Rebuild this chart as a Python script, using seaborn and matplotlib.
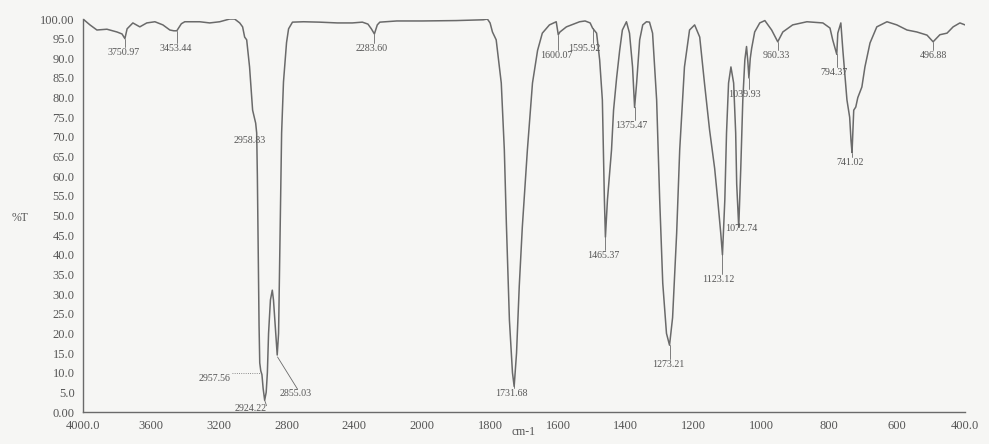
import numpy as np
import pandas as pd
import matplotlib
matplotlib.use("Agg")
import matplotlib.pyplot as plt
import seaborn as sns

# ---------------- data ----------------
wavenumber = [4000, 3959, 3918, 3859, 3800, 3770, 3753, 3740, 3706, 3665, 3624, 3576, 3529, 3488,
              3465, 3447, 3420, 3400, 3312, 3253, 3194, 3135, 3106, 3076, 3059, 3047, 3035, 3018,
              3000, 2990, 2982, 2976, 2972, 2967, 2962, 2958, 2952, 2945, 2938, 2929, 2920, 2913,
              2906, 2895, 2884, 2877, 2866, 2855, 2847, 2838, 2829, 2818, 2800, 2788, 2765, 2700,
              2606, 2500, 2412, 2353, 2320, 2300, 2282, 2265, 2250, 2150, 2000, 1900, 1820, 1808,
              1800, 1793, 1782, 1767, 1758, 1752, 1743, 1734, 1729, 1722, 1714, 1705, 1690, 1675,
              1660, 1646, 1625, 1605, 1599, 1594, 1575, 1536, 1520, 1505, 1498, 1486, 1477, 1469,
              1466, 1463, 1460, 1454, 1442, 1436, 1427, 1418, 1410, 1398, 1389, 1380, 1374, 1368,
              1359, 1350, 1339, 1330, 1321, 1309, 1300, 1291, 1280, 1271, 1262, 1250, 1241, 1227,
              1212, 1197, 1182, 1168, 1153, 1138, 1129, 1120, 1115, 1108, 1103, 1097, 1090, 1082,
              1076, 1073, 1067, 1061, 1055, 1049, 1044, 1040, 1037, 1033, 1029, 1020, 1005, 990,
              970, 952, 937, 908, 866, 819, 798, 790, 778, 775, 766, 760, 748, 740, 736, 733,
              728, 722, 716, 704, 695, 680, 660, 630, 601, 571, 542, 512, 494, 474, 453, 435,
              415, 400]
transmittance = [100, 98.5, 97.2, 97.4, 96.7, 96.2, 95.0, 97.5, 99.0, 98.0, 99.0, 99.3, 98.5, 97.2,
                 97.0, 97.0, 98.8, 99.3, 99.3, 99.0, 99.3, 100, 100, 99.0, 98.0, 95.4, 94.7, 87.8,
                 76.8, 75.0, 73.5, 71.0, 60, 40, 22, 12.5, 10.5, 9.5, 6.0, 3.0, 5.0, 10,
                 20, 28.5, 31, 28.5, 21.6, 14.5, 20, 45, 71, 84, 94, 97.5, 99.2, 99.3,
                 99.2, 99.0, 99.0, 99.2, 98.7, 97.5, 96.2, 98.5, 99.2, 99.5, 99.5, 99.6, 99.8, 100,
                 99.0, 96.7, 94.7, 83.7, 66.7, 48, 23.4, 10, 6.5, 15, 32, 47, 66.7, 83.7,
                 92, 96.4, 98.5, 99.3, 96.0, 96.7, 98.0, 99.3, 99.5, 99.0, 97.7, 96.4, 89.6, 79.4,
                 66.7, 54, 44.5, 54, 66.7, 76.8, 85, 92, 97.2, 99.3, 96.4, 87.8, 77.5, 83.7,
                 94.7, 98.5, 99.3, 99.2, 96.4, 79.4, 54, 32.8, 20, 17, 24, 45.5, 66.7, 87.8,
                 97.2, 98.5, 95.4, 83.7, 71.8, 62, 54, 45.5, 40, 54, 71, 83.7, 87.8, 83.7,
                 71, 58, 47, 62, 79.4, 89.6, 93, 89, 85, 90, 92.5, 96.7, 99, 99.6,
                 97.2, 94.2, 96.7, 98.5, 99.3, 99.0, 97.7, 94.7, 91, 96.4, 99, 92, 79.4, 75, 69, 66,
                 76.8, 77.6, 80, 82.7, 87.8, 93.9, 98, 99.3, 98.5, 97.2, 96.7, 95.9, 94.2, 96, 96.4, 98,
                 99, 98.5]

peak_labels = ["3750.97", "3453.44", "2958.83", "2957.56", "2924.22", "2855.03", "2283.60",
               "1731.68", "1600.07", "1595.92", "1465.37", "1375.47", "1273.21", "1123.12",
               "1072.74", "1039.93", "960.33", "794.37", "741.02", "496.88"]
# marker position on the curve (wavenumber, %T)
peak_wn = [3753, 3447, 2976, 2950, 2929, 2853, 2282, 1729, 1599, 1498, 1460, 1374, 1271, 1117,
           1067, 1037, 952, 778, 733, 494]
peak_T = [95.0, 97.0, 71.0, 10.0, 3.0, 14.0, 96.2, 6.5, 96.0, 97.7, 44.5, 77.5, 17.0, 42.0,
          47.0, 85.0, 94.2, 91.0, 66.0, 94.2]
# label text centre (wavenumber, %T)
label_wn = [3759, 3453, 3018, 3224, 3012, 2747, 2300, 1737, 1604, 1522, 1466, 1383, 1274, 1126,
            1061, 1049, 955, 787, 740, 494]
label_T = [91.6, 92.6, 69.0, 8.4, 0.8, 4.6, 92.6, 4.6, 90.6, 92.6, 39.7, 72.8, 12.2, 33.8,
           46.6, 80.7, 90.6, 86.5, 63.4, 90.6]

xticks = [4000, 3600, 3200, 2800, 2400, 2000, 1800, 1600, 1400, 1200, 1000, 800, 600, 400]
xticklabels = ["4000.0", "3600", "3200", "2800", "2400", "2000", "1800", "1600", "1400",
               "1200", "1000", "800", "600", "400.0"]
yticks = list(range(0, 101, 5))
yticklabels = ["0.00"] + [f"{v:.1f}" for v in yticks[1:-1]] + ["100.00"]

# ---------------- style ----------------
sns.set_theme(style="white")
plt.rcParams["font.family"] = ["Liberation Serif", "DejaVu Serif"]
bg = "#f6f6f4"
ink = "#6a6a6a"
txt = "#555555"

fig = plt.figure(figsize=(9.89, 4.44), dpi=100, facecolor=bg)
ax = fig.add_axes([83 / 989, 1 - 412 / 444, (965 - 83) / 989, (412 - 19) / 444])
ax.set_facecolor(bg)


def fwd(x):
    x = np.asarray(x, dtype=float)
    return np.where(x > 2000, 2000 + (x - 2000) / 2.0, x)


def inv(y):
    y = np.asarray(y, dtype=float)
    return np.where(y > 2000, 2000 + (y - 2000) * 2.0, y)


ax.set_xscale("function", functions=(fwd, inv))

df = pd.DataFrame({"wn": wavenumber, "T": transmittance})
sns.lineplot(data=df, x="wn", y="T", ax=ax, color=ink, linewidth=1.1,
             estimator=None, sort=False)

ax.set_xlim(4000, 400)
ax.set_ylim(0, 100)
ax.set_xticks(xticks)
ax.set_xticklabels(xticklabels)
ax.set_yticks(yticks)
ax.set_yticklabels(yticklabels)
ax.set_xlabel("")
ax.set_ylabel("")
ax.tick_params(axis="both", labelsize=9, colors=txt, length=3, width=0.8, direction="out")
ax.tick_params(axis="y", pad=3)
ax.tick_params(axis="x", pad=3)
for s in ["top", "right"]:
    ax.spines[s].set_visible(False)
for s in ["left", "bottom"]:
    ax.spines[s].set_color(ink)
    ax.spines[s].set_linewidth(1.0)

# peak markers and labels
for i, lab in enumerate(peak_labels):
    pw, pt, lw_, lt = peak_wn[i], peak_T[i], label_wn[i], label_T[i]
    if lab == "2957.56":
        ax.plot([3120, pw], [10, 10], color=ink, lw=0.6, ls=":")
    elif lab == "2855.03":
        ax.plot([pw, 2735], [pt, 5.8], color=ink, lw=0.6)
    elif lab == "2924.22":
        ax.plot([2918, pw], [1.6, pt], color=ink, lw=0.6)
    elif lab == "2958.83":
        pass
    else:
        top = lt + 1.4 if pt > lt else lt - 1.4
        ax.plot([pw, pw], [pt, top], color=ink, lw=0.6)
    ax.text(lw_, lt, lab, ha="center", va="center", fontsize=7.2, color=txt)

fig.text(20 / 989, 1 - 218 / 444, "%T", fontsize=8.5, color=txt, ha="center", va="center")
fig.text(523 / 989, 1 - 432 / 444, "cm-1", fontsize=8.5, color=txt, ha="center", va="center")

fig.savefig("out.png", dpi=100, facecolor=bg)
